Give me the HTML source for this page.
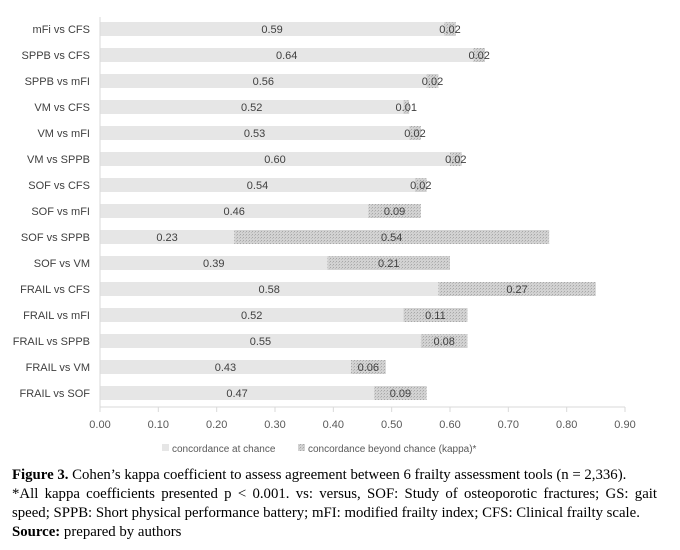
<!DOCTYPE html>
<html><head><meta charset="utf-8"><style>
body{margin:0;background:#fff;width:680px;height:550px;overflow:hidden;}
svg text{font-family:"Liberation Sans",sans-serif;}
.cap{position:absolute;left:12px;top:466px;width:645px;font-family:"Liberation Serif",serif;font-size:14.8px;line-height:19px;color:#000;text-align:justify;}
</style></head><body>
<svg id="chart" width="680" height="460" style="position:absolute;left:0;top:0">
<defs><pattern id="dots" width="3" height="3" patternUnits="userSpaceOnUse">
<rect width="3" height="3" fill="#d2d2d2"/><rect width="1" height="1" fill="#a8a8a8"/><rect x="2" y="1" width="1" height="1" fill="#bcbcbc"/></pattern></defs>
</svg>
<div class="cap"><b>Figure 3.</b> Cohen’s kappa coefficient to assess agreement between 6 frailty assessment tools (n = 2,336).<br>*All kappa coefficients presented p &lt; 0.001. vs: versus, SOF: Study of osteoporotic fractures; GS: gait speed; SPPB: Short physical performance battery; mFI: modified frailty index; CFS: Clinical frailty scale.<br><b>Source:</b> prepared by authors</div>
<script>
const categories=["mFi vs CFS","SPPB vs CFS","SPPB vs mFI","VM vs CFS","VM vs mFI","VM vs SPPB","SOF vs CFS","SOF vs mFI","SOF vs SPPB","SOF vs VM","FRAIL vs CFS","FRAIL vs mFI","FRAIL vs SPPB","FRAIL vs VM","FRAIL vs SOF"];
const chanceValues=[0.59,0.64,0.56,0.52,0.53,0.60,0.54,0.46,0.23,0.39,0.58,0.52,0.55,0.43,0.47];
const kappaValues=[0.02,0.02,0.02,0.01,0.02,0.02,0.02,0.09,0.54,0.21,0.27,0.11,0.08,0.06,0.09];
const tickValues=[0,0.1,0.2,0.3,0.4,0.5,0.6,0.7,0.8,0.9];
const svg=document.getElementById('chart');const NS='http://www.w3.org/2000/svg';
const X0=100,X1=625,xmax=0.9;
const x=v=>X0+v/xmax*(X1-X0);
const y=i=>29+i*26;
function mk(t,a,txt){const e=document.createElementNS(NS,t);for(const k in a)e.setAttribute(k,a[k]);if(txt!=null)e.textContent=txt;svg.appendChild(e);return e;}
categories.forEach((c,i)=>{
 const cy=y(i);
 let l=mk('text',{x:90,y:cy+4,'text-anchor':'end','font-size':11,fill:'#404040'},c);
 
 
 const a=chanceValues[i],b=kappaValues[i];
 let r=mk('rect',{x:x(0),y:cy-7,width:x(a)-x(0),height:14,fill:'#e6e6e6'});
 
 
 let r2=mk('rect',{x:x(a),y:cy-7,width:x(a+b)-x(a),height:14,fill:'url(#dots)'});
 
 
 let t1=mk('text',{x:(x(0)+x(a))/2,y:cy+4,'text-anchor':'middle','font-size':11,fill:'#404040'},a.toFixed(2));
 
 
 let t2=mk('text',{x:(x(a)+x(a+b))/2,y:cy+4,'text-anchor':'middle','font-size':11,fill:'#404040'},b.toFixed(2));
 
 
});
let ya=mk('line',{x1:X0,y1:17,x2:X0,y2:407,stroke:'#d9d9d9','stroke-width':1});


let xa=mk('line',{x1:X0,y1:407,x2:X1,y2:407,stroke:'#d9d9d9','stroke-width':1});


tickValues.forEach(v=>{
 mk('line',{x1:x(v),y1:407,x2:x(v),y2:412,stroke:'#d9d9d9'});
 let t=mk('text',{x:x(v),y:428,'text-anchor':'middle','font-size':11,fill:'#595959'},v.toFixed(2));
 
 
});
let g1=mk('rect',{x:162,y:444,width:7,height:7,fill:'#e6e6e6'});


let l1=mk('text',{x:172,y:452,'font-size':10,fill:'#595959'},'concordance at chance');


let g2=mk('rect',{x:298,y:444,width:7,height:7,fill:'url(#dots)'});


let l2=mk('text',{x:308,y:452,'font-size':10,fill:'#595959'},'concordance beyond chance (kappa)*');


</script>
</body></html>
